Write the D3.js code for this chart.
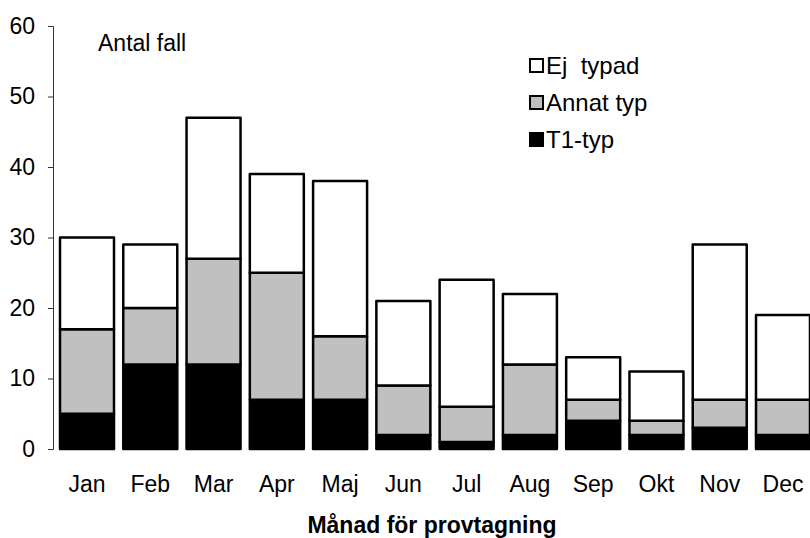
<!DOCTYPE html>
<html><head><meta charset="utf-8">
<script src="https://cdn.jsdelivr.net/npm/d3@7"></script>
<style>html,body{margin:0;padding:0;background:#fff;}svg{display:block;font-family:"Liberation Sans",Arial,sans-serif;}</style>
</head><body>
<svg id="c" width="810" height="538"></svg>
<script>
const months = ["Jan","Feb","Mar","Apr","Maj","Jun","Jul","Aug","Sep","Okt","Nov","Dec"];
const t1Typ   = [5,12,12,7,7,2,1,2,4,2,3,2];
const annatTyp= [12,8,15,18,9,7,5,10,3,2,4,5];
const ejTypad = [13,9,20,14,22,12,18,10,6,7,22,12];
const seriesNames = ["T1-typ","Annat typ","Ej  typad"];
const seriesColors = ["#000000","#c0c0c0","#ffffff"];
const yTicks = [0,10,20,30,40,50,60];

const svg = d3.select("#c");
const x = d3.scaleBand().domain(months).range([53,817]).paddingInner(0.1465).paddingOuter(0.1106);
const y = d3.scaleLinear().domain([0,60]).range([449,26]);

const rows = months.map((m,i)=>({m, t1:t1Typ[i], an:annatTyp[i], ej:ejTypad[i]}));
const stack = d3.stack().keys(["t1","an","ej"])(rows);

stack.forEach((layer,k)=>{
  svg.append("g").selectAll("rect").data(layer).join("rect")
    .attr("x", d=>x(d.data.m))
    .attr("y", d=>y(d[1]))
    .attr("width", x.bandwidth())
    .attr("height", d=>y(d[0])-y(d[1]))
    .attr("fill", seriesColors[k])
    .attr("stroke","#000").attr("stroke-width",2.5).attr("stroke-linejoin","round");
});

// y axis
const ax = svg.append("g").attr("transform","translate(53,0)")
  .call(d3.axisLeft(y).tickValues(yTicks).tickSize(5).tickPadding(13));
ax.select(".domain").attr("stroke","#333").attr("stroke-width",1);
ax.selectAll(".tick line").attr("stroke","#333");
ax.selectAll("text").attr("font-size",23).attr("fill","#000").attr("font-family","Liberation Sans, Arial, sans-serif");

// x labels
const xa = svg.append("g").attr("transform","translate(0,449)")
  .call(d3.axisBottom(x).tickSize(0).tickPadding(27));
xa.select(".domain").remove();
xa.selectAll("text").attr("font-size",23).attr("fill","#000").attr("font-family","Liberation Sans, Arial, sans-serif");

svg.append("text").attr("x",432).attr("y",533).attr("text-anchor","middle")
  .attr("font-size",23).attr("font-weight","bold").text("Månad för provtagning");
svg.append("text").attr("x",98).attr("y",51).attr("font-size",23).text("Antal fall");

// legend
const legendOrder = [2,1,0];
legendOrder.forEach((k,i)=>{
  const cy = 65.5 + i*37;
  svg.append("rect").attr("x",530).attr("y",cy-6.5).attr("width",13).attr("height",13)
    .attr("fill",seriesColors[k]).attr("stroke","#000").attr("stroke-width",2);
  svg.append("text").attr("x",546).attr("y",cy+8.5).attr("font-size",24)
    .attr("xml:space","preserve").style("white-space","pre").text(seriesNames[k]);
});
</script>
</body></html>
